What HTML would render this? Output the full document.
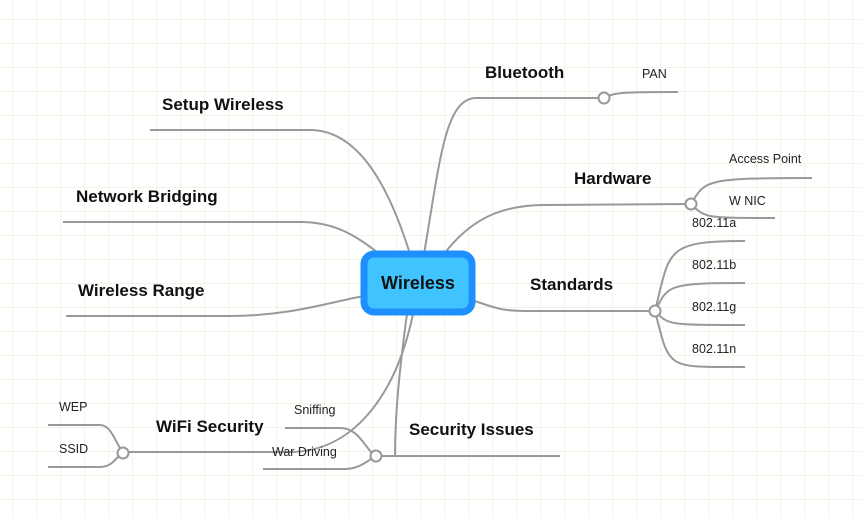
<!DOCTYPE html>
<html><head><meta charset="utf-8"><style>
html,body{margin:0;padding:0;background:#fff}
svg{display:block}
.b{font-family:"Liberation Sans",sans-serif;font-weight:bold;font-size:17px;fill:#111}
.s{font-family:"Liberation Sans",sans-serif;font-size:12.5px;fill:#222}
.l{fill:none;stroke:#999;stroke-width:2}
</style></head><body>
<svg width="862" height="518" viewBox="0 0 862 518" xmlns="http://www.w3.org/2000/svg">
<defs><pattern id="g" x="0" y="0" width="24" height="24" patternUnits="userSpaceOnUse" patternTransform="translate(12.5,19)">
<path d="M0 0H24M0 0V24" stroke="#e6efd9" stroke-width="1.2" fill="none"/></pattern></defs>
<rect width="862" height="518" fill="url(#g)"/>
<g class="l">
<!-- Bluetooth -->
<path d="M424 254 C440 160 445 100 475 98 L604 98"/>
<path d="M604 98 C615 92 625 92 678 92"/>
<!-- Hardware -->
<path d="M444 254 C470 220 500 205 545 205 L691 204"/>
<path d="M691 204 C705 180 705 178 812 178"/>
<path d="M691 204 C705 218 705 218 775 218"/>
<!-- Standards -->
<path d="M472 300 C500 310 505 311 530 311 L655 311"/>
<path d="M655 311 C670 250 665 241 745 241"/>
<path d="M655 311 C668 285 668 283 745 283"/>
<path d="M655 311 C668 325 668 325 745 325"/>
<path d="M655 311 C670 370 665 367 745 367"/>
<!-- Setup Wireless -->
<path d="M150 130 L310 130 C360 130 390 190 410 254"/>
<!-- Network Bridging -->
<path d="M63 222 L300 222 C340 222 360 240 380 254"/>
<!-- Wireless Range -->
<path d="M66 316 L230 316 C290 316 330 302 364 296"/>
<!-- Security Issues -->
<path d="M407 314 C398 380 395 420 395 456 L560 456"/>
<path d="M376 456 L395 456"/>
<path d="M285 428 L340 428 C360 428 365 450 376 456"/>
<path d="M263 469 L345 469 C360 469 368 460 376 456"/>
<!-- WiFi Security -->
<path d="M413 314 C395 400 350 452 290 452 L123 452"/>
<path d="M48 425 L100 425 C112 425 116 445 123 452"/>
<path d="M48 467 L100 467 C112 467 116 458 123 452"/>
</g>
<g fill="#fff" stroke="#999" stroke-width="2">
<circle cx="604" cy="98" r="5.5"/>
<circle cx="691" cy="204" r="5.5"/>
<circle cx="655" cy="311" r="5.5"/>
<circle cx="376" cy="456" r="5.5"/>
<circle cx="123" cy="453" r="5.5"/>
</g>
<rect x="364" y="254" width="108" height="58" rx="10" fill="#40c4ff" stroke="#1e8fff" stroke-width="7"/>
<text class="b" x="418" y="289" text-anchor="middle" style="font-size:18px">Wireless</text>
<text class="b" x="485" y="78">Bluetooth</text>
<text class="s" x="642" y="78">PAN</text>
<text class="b" x="574" y="184">Hardware</text>
<text class="s" x="729" y="163">Access Point</text>
<text class="s" x="729" y="205">W NIC</text>
<text class="b" x="530" y="290">Standards</text>
<text class="s" x="692" y="227">802.11a</text>
<text class="s" x="692" y="269">802.11b</text>
<text class="s" x="692" y="311">802.11g</text>
<text class="s" x="692" y="353">802.11n</text>
<text class="b" x="162" y="110">Setup Wireless</text>
<text class="b" x="76" y="202">Network Bridging</text>
<text class="b" x="78" y="296">Wireless Range</text>
<text class="b" x="409" y="435">Security Issues</text>
<text class="s" x="294" y="414">Sniffing</text>
<text class="s" x="272" y="456">War Driving</text>
<text class="b" x="156" y="432">WiFi Security</text>
<text class="s" x="59" y="411">WEP</text>
<text class="s" x="59" y="453">SSID</text>
</svg>
</body></html>
